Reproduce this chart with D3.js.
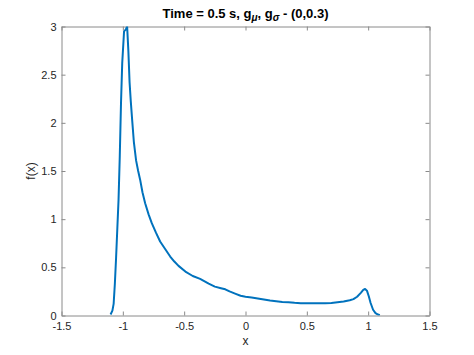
<!DOCTYPE html>
<html>
<head>
<meta charset="utf-8">
<script src="https://cdn.jsdelivr.net/npm/d3@7"></script>
<style>
  body { margin: 0; background: #fff; }
  text { font-family: "Liberation Sans", Arial, Helvetica, sans-serif; }
</style>
</head>
<body>
<div id="chart"></div>
<script>
//// ============================ DATA ============================ ////

var xs = [-1.10, -1.085, -1.075, -1.065, -1.055, -1.045, -1.035, -1.025, -1.015, -1.005,
    -0.99, -0.975, -0.965, -0.955, -0.945, -0.935, -0.924, -0.91, -0.892, -0.875,
    -0.859, -0.84, -0.818, -0.79, -0.764, -0.73, -0.696, -0.655, -0.614, -0.58,
    -0.546, -0.49, -0.43, -0.37, -0.30, -0.25, -0.20, -0.165, -0.13, -0.08,
    -0.04, 0.00, 0.05, 0.10, 0.15, 0.20, 0.25, 0.30, 0.35, 0.40,
    0.45, 0.50, 0.55, 0.60, 0.65, 0.70, 0.75, 0.80, 0.85, 0.88,
    0.91, 0.94, 0.96, 0.975, 0.99, 1.005, 1.02, 1.04, 1.06, 1.08, 1.095];

var ys = [0.01, 0.05, 0.12, 0.33, 0.60, 0.90, 1.20, 1.65, 2.20, 2.62,
    2.95, 2.97, 3.0, 2.75, 2.42, 2.22, 2.03, 1.80, 1.61, 1.50,
    1.41, 1.28, 1.166, 1.05, 0.958, 0.86, 0.768, 0.69, 0.612, 0.56,
    0.515, 0.456, 0.41, 0.38, 0.33, 0.30, 0.283, 0.272, 0.25, 0.225,
    0.205, 0.195, 0.186, 0.177, 0.166, 0.156, 0.148, 0.141, 0.138, 0.132,
    0.128, 0.128, 0.127, 0.127, 0.128, 0.130, 0.138, 0.145, 0.158, 0.170,
    0.195, 0.235, 0.265, 0.275, 0.258, 0.20, 0.13, 0.06, 0.025, 0.01, 0.003];

var xTicks = [-1.5, -1, -0.5, 0, 0.5, 1, 1.5];
var yTicks = [0, 0.5, 1, 1.5, 2, 2.5, 3];

//// ============================ LAYOUT ============================ ////

var width = 474, height = 355;
var padLeft = 61.5, padRight = 429.5, padTop = 26.5, padBottom = 315.5;
var tickLen = 4;
var axisColor = "#8a8a8a", textColor = "#262626";

var svg = d3.select("#chart").append("svg")
    .attr("width", width)
    .attr("height", height);

var x = d3.scaleLinear().domain([-1.5, 1.5]).range([padLeft, padRight]);
var y = d3.scaleLinear().domain([0, 3]).range([padBottom, padTop]);

var fmt = function(d) { return String(d); };

// bottom axis
svg.append("g")
    .attr("transform", "translate(0," + padBottom + ")")
    .call(d3.axisBottom(x).tickValues(xTicks).tickFormat(fmt).tickSizeInner(-tickLen).tickSizeOuter(0).tickPadding(7));

// left axis
svg.append("g")
    .attr("transform", "translate(" + padLeft + ",0)")
    .call(d3.axisLeft(y).tickValues(yTicks).tickFormat(fmt).tickSizeInner(-tickLen).tickSizeOuter(0).tickPadding(5));

// top and right (box) ticks
svg.append("g")
    .attr("transform", "translate(0," + padTop + ")")
    .call(d3.axisTop(x).tickValues(xTicks).tickFormat("").tickSizeInner(-tickLen).tickSizeOuter(0));
svg.append("g")
    .attr("transform", "translate(" + padRight + ",0)")
    .call(d3.axisRight(y).tickValues(yTicks).tickFormat("").tickSizeInner(-tickLen).tickSizeOuter(0));

svg.selectAll(".domain, .tick line")
    .attr("stroke", axisColor)
    .attr("stroke-width", 1);
svg.selectAll(".tick text")
    .attr("fill", textColor)
    .style("font-size", "11px")
    .style("font-family", "'Liberation Sans', Arial, sans-serif");

//// ============================ CURVE ============================ ////

var pts = xs.map(function(d, i) { return [d, ys[i]]; });

svg.append("clipPath")
    .attr("id", "plotclip")
    .append("rect")
    .attr("x", padLeft)
    .attr("y", padTop)
    .attr("width", padRight - padLeft)
    .attr("height", padBottom - padTop);

var line = d3.line()
    .x(function(d) { return x(d[0]); })
    .y(function(d) { return y(d[1]); })
    .curve(d3.curveLinear);

svg.append("path")
    .datum(pts)
    .attr("clip-path", "url(#plotclip)")
    .attr("fill", "none")
    .attr("stroke", "#0072BD")
    .attr("stroke-width", 2)
    .attr("stroke-linejoin", "round")
    .attr("d", line);

//// ============================ LABELS ============================ ////

var title = svg.append("text")
    .attr("x", (padLeft + padRight) / 2)
    .attr("y", 17.5)
    .attr("text-anchor", "middle")
    .attr("fill", "#000")
    .style("font-size", "13px")
    .style("font-weight", "bold");
title.append("tspan").text("Time = 0.5 s, g");
title.append("tspan").attr("dy", 3.5).style("font-size", "10px").style("font-style", "italic").text("\u03bc");
title.append("tspan").attr("dy", -3.5).text(", g");
title.append("tspan").attr("dy", 3.5).style("font-size", "10px").style("font-style", "italic").text("\u03c3");
title.append("tspan").attr("dy", -3.5).text(" - (0,0.3)");

svg.append("text")
    .attr("x", (padLeft + padRight) / 2)
    .attr("y", 345)
    .attr("text-anchor", "middle")
    .attr("fill", textColor)
    .style("font-size", "12px")
    .text("x");

svg.append("text")
    .attr("transform", "translate(35," + ((padTop + padBottom) / 2) + ") rotate(-90)")
    .attr("text-anchor", "middle")
    .attr("fill", textColor)
    .style("font-size", "12px")
    .text("f(x)");
</script>
</body>
</html>
